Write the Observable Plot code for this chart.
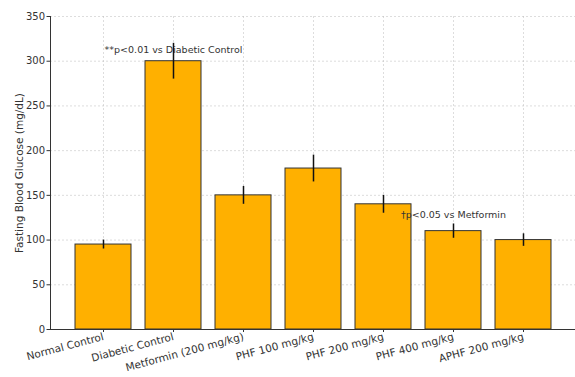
<!DOCTYPE html>
<html>
<head>
<meta charset="utf-8">
<script src="https://cdn.jsdelivr.net/npm/d3@7"></script>
<script src="https://cdn.jsdelivr.net/npm/@observablehq/plot@0.6"></script>
<style>
  html, body { margin: 0; padding: 0; background: #fff; }
  #chart svg { font-family: "DejaVu Sans", sans-serif; }
</style>
</head>
<body>
<div id="chart"></div>
<script>
const groups = ["Normal Control", "Diabetic Control", "Metformin (200 mg/kg)", "PHF 100 mg/kg", "PHF 200 mg/kg", "PHF 400 mg/kg", "APHF 200 mg/kg"];
const means = [95, 300, 150, 180, 140, 110, 100];
const errors = [5, 20, 10, 15, 10, 8, 7];
const yTicks = [0, 50, 100, 150, 200, 250, 300, 350];
const noteGroups = ["Diabetic Control", "PHF 400 mg/kg"];
const noteY = [313, 128];
const noteTexts = ["**p<0.01 vs Diabetic Control", "†p<0.05 vs Metformin"];

const data = groups.map((g, i) => ({group: g, mean: means[i], lo: means[i] - errors[i], hi: means[i] + errors[i]}));
const notes = noteGroups.map((g, i) => ({group: g, y: noteY[i], text: noteTexts[i]}));

const chart = Plot.plot({
  width: 575,
  height: 377,
  marginLeft: 50,
  marginRight: 0,
  marginTop: 16,
  marginBottom: 48,
  style: {fontFamily: "DejaVu Sans, sans-serif", fontSize: "10px", color: "#333"},
  x: {domain: groups, paddingInner: 0.2, paddingOuter: 0.3},
  y: {domain: [0, 350]},
  marks: [
    Plot.gridX({stroke: "#bbb", strokeOpacity: 0.5, strokeDasharray: "2,2"}),
    Plot.gridY(yTicks, {stroke: "#bbb", strokeOpacity: 0.5, strokeDasharray: "2,2"}),
    Plot.barY(data, {x: "group", y: "mean", fill: "#FFB000", stroke: "#333", strokeWidth: 1}),
    Plot.ruleX(data, {x: "group", y1: "lo", y2: "hi", stroke: "#111", strokeWidth: 1.5}),
    Plot.text(notes, {x: "group", y: "y", text: "text", fontSize: 9.5, fill: "#333"}),
    Plot.axisY({ticks: yTicks, tickSize: 3.5, fontSize: 10, tickPadding: 2}),
    Plot.axisY({ticks: [], tickSize: 0, label: "Fasting Blood Glucose (mg/dL)", labelAnchor: "center", labelArrow: "none", labelOffset: 35, fontSize: 10.5}),
    Plot.axisX({tickSize: 3, tickRotate: -15, fontSize: 10.5, label: null, tickPadding: 4}),
    Plot.ruleY([0], {stroke: "#333", strokeWidth: 1}),
    Plot.frame({anchor: "left", stroke: "#333", strokeWidth: 1})
  ]
});
document.getElementById("chart").appendChild(chart);
</script>
</body>
</html>
